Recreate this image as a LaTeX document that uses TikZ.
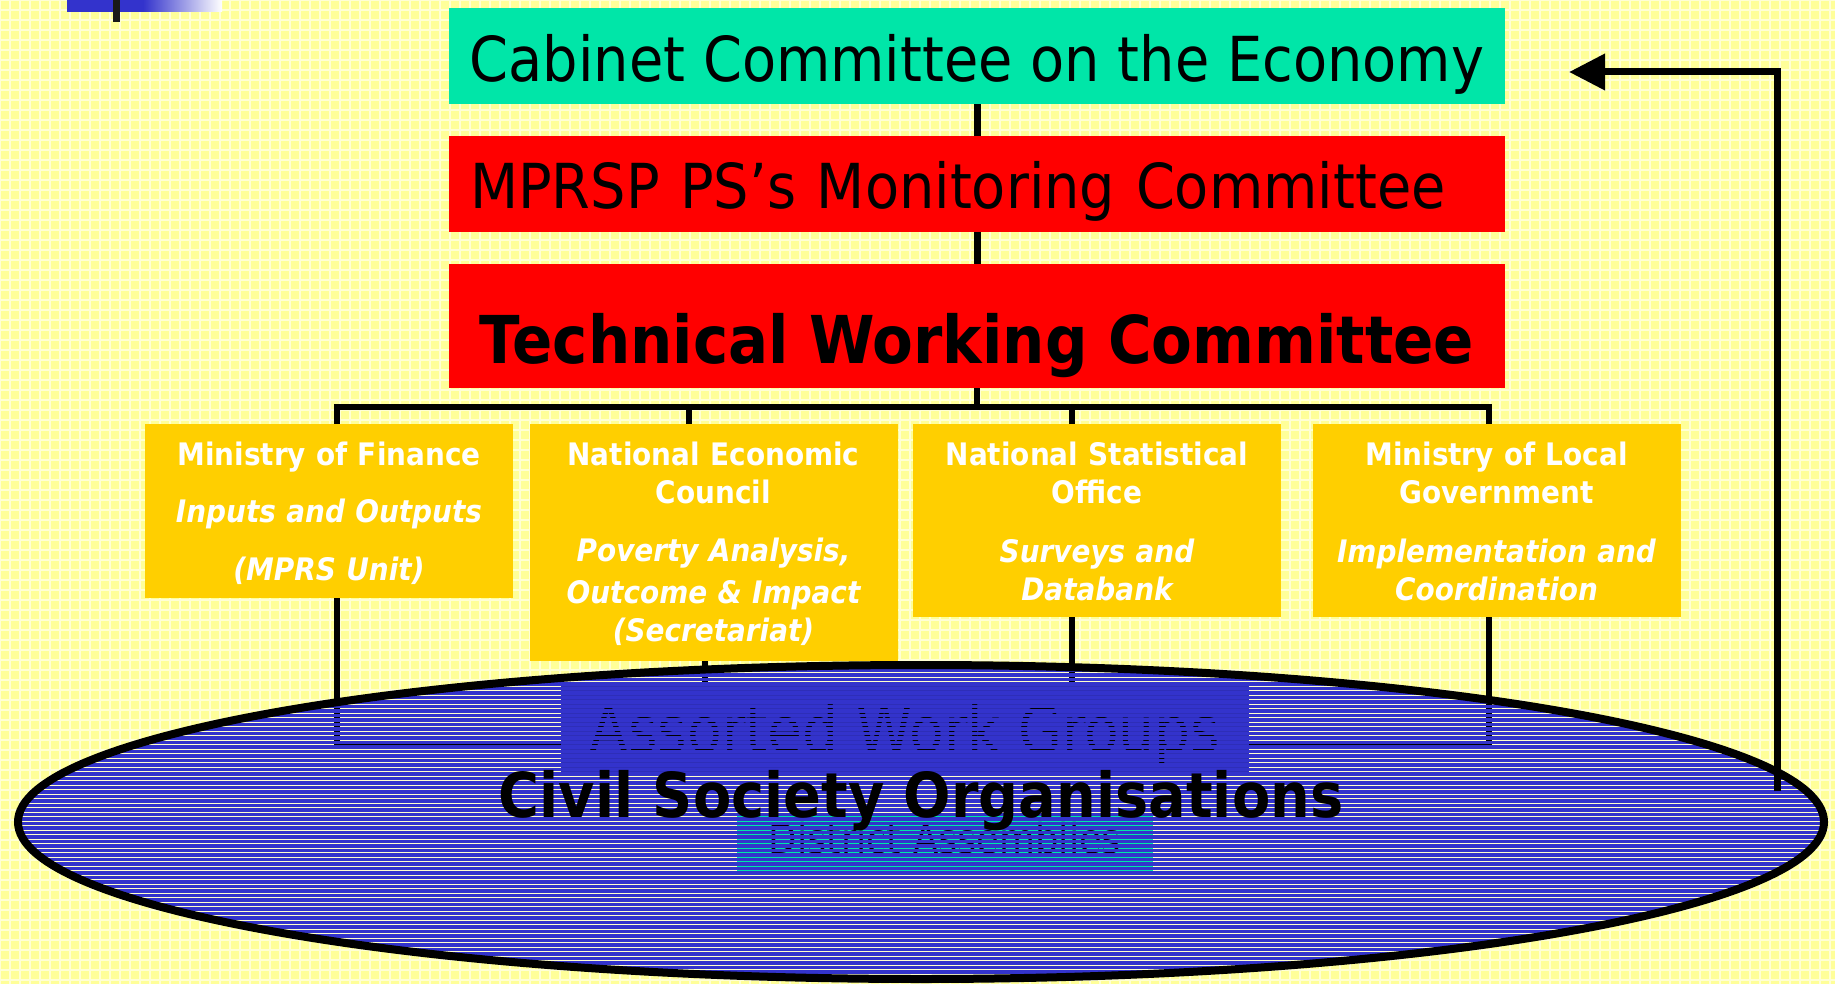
\documentclass[tikz,border=0pt]{standalone}
\usepackage{fontspec}
\setmainfont{DejaVu Sans}[FakeStretch=0.9]
\usetikzlibrary{shapes.geometric, arrows.meta, positioning}

\definecolor{paper}{HTML}{FFFF99}
\definecolor{paperline}{HTML}{FFFFD6}
\definecolor{gapcolor}{HTML}{FFFFCC}
\definecolor{cabteal}{HTML}{00E6A8}
\definecolor{boxred}{HTML}{FF0000}
\definecolor{unitgold}{HTML}{FFCF00}
\definecolor{csoblue}{HTML}{3333CC}
\definecolor{awgblue}{HTML}{2E2EB8}

\begin{document}
\begin{tikzpicture}[x=1pt, y=-1pt,
        topbox/.style={rectangle, minimum width=1056pt, minimum height=96pt, inner xsep=21pt, inner ysep=0pt, text depth=0pt},
        unitbox/.style={rectangle, fill=unitgold, minimum width=368pt},
        unittext/.style={align=center, text width=350pt, text=white, inner sep=0pt, font=\fontsize{31}{38}\selectfont\bfseries},
        link/.style={line width=7pt},
        busline/.style={line width=6pt},
        feedback/.style={line width=7pt, -{Triangle[length=36pt, width=35pt]}}]
    \useasboundingbox (0,0) rectangle (1835,984);
    \fill[paper] (0,0) rectangle (1835,984);
    \draw[paperline, line width=2pt, step=10pt] (0,984) grid (1835,0);
    % corner marker
    \fill[csoblue] (67,0) rectangle (143,12);
    \shade[left color=csoblue, right color=white] (143,0) rectangle (222,12);
    \fill[black!90] (113,0) rectangle (120,22);

    \node[topbox, fill=cabteal, text height=52pt, font=\fontsize{62}{74}\selectfont] (cce) at (977,56) {Cabinet Committee on the Economy};
    \node[topbox, fill=boxred, text height=50pt, text width=1014pt, align=left, font=\fontsize{62}{74}\selectfont] (mps) at (977,184) {MPRSP PS’s Monitoring Committee};
    \node[topbox, fill=boxred, minimum height=124pt, text height=74pt, font=\fontsize{66}{79}\selectfont\bfseries] (twc) at (977,326) {Technical Working Committee};
    \draw[link] (cce) -- (mps);
    \draw[link] (mps) -- (twc);

    \node[unitbox, minimum height=174pt] (mof) at (329,511) {};
    \node[unitbox, minimum height=237pt] (nec) at (713.5,542.5) {};
    \node[unitbox, minimum height=193pt] (nso) at (1097,520.5) {};
    \node[unitbox, minimum height=193pt] (mlg) at (1496.5,520.5) {};
    \node[unittext, below=18pt of mof.north] (mof-t) {Ministry of Finance\\[19pt]\itshape Inputs and Outputs\\[20pt](MPRS Unit)};
    \node[unittext, below=18pt of nec.north] (nec-t) {National Economic\\Council\\[20pt]\itshape Poverty Analysis,\\[4pt]Outcome \& Impact\\(Secretariat)};
    \node[unittext, below=18pt of nso.north] (nso-t) {National Statistical\\Office\\[21pt]\itshape Surveys and\\Databank};
    \node[unittext, below=18pt of mlg.north] (mlg-t) {Ministry of Local\\Government\\[21pt]\itshape Implementation and\\Coordination};

    % pale ground showing between the stripes
    \fill[gapcolor] (921,822) ellipse [x radius=903, y radius=157];

    \coordinate (topbus) at (977,407);
    \coordinate (lowbus) at (977,745);
    \draw[busline] (twc) -- (topbus);
    \foreach \b/\dx in {mof/8, nec/-24.5, nso/-25, mlg/-7.5}
        \draw[busline] ([xshift=\dx pt]\b.north) |- (topbus);
    \foreach \b/\dx in {mof/8, nec/-8.5, nso/-25, mlg/-7.5}
        \draw[busline] ([xshift=\dx pt]\b.south) |- (lowbus);

    \node[rectangle, fill=awgblue, minimum width=688pt, minimum height=94pt, inner ysep=0pt, text height=46pt, text depth=0pt, font=\fontsize{63}{75}\selectfont] (awg) at (905,729) {Assorted Work Groups};
    \node[rectangle, fill=cabteal, minimum width=416pt, minimum height=58pt, inner ysep=0pt, text height=20pt, text depth=0pt, font=\fontsize{41}{49}\selectfont] (dist) at (945,843) {District Assemblies};

    % striped fill of the ellipse
    \begin{scope}
        \clip (921,822) ellipse [x radius=903, y radius=157];
        \foreach \y in {664,668.5,...,982}
            \fill[csoblue] (14,\y) rectangle (1828,\y+3.5);
    \end{scope}
    \node[ellipse, draw, line width=8pt, minimum width=1806pt, minimum height=314pt, inner sep=0pt] (cso) at (921,822) {};
    \node[anchor=base, font=\fontsize{62}{74}\selectfont\bfseries] (cso-t) at (921,817) {Civil Society Organisations};

    \coordinate (fbstart) at (1777,791);
    \coordinate (fbend) at (1569,72);
    \draw[feedback] (fbstart) |- (fbend);
\end{tikzpicture}
\end{document}
